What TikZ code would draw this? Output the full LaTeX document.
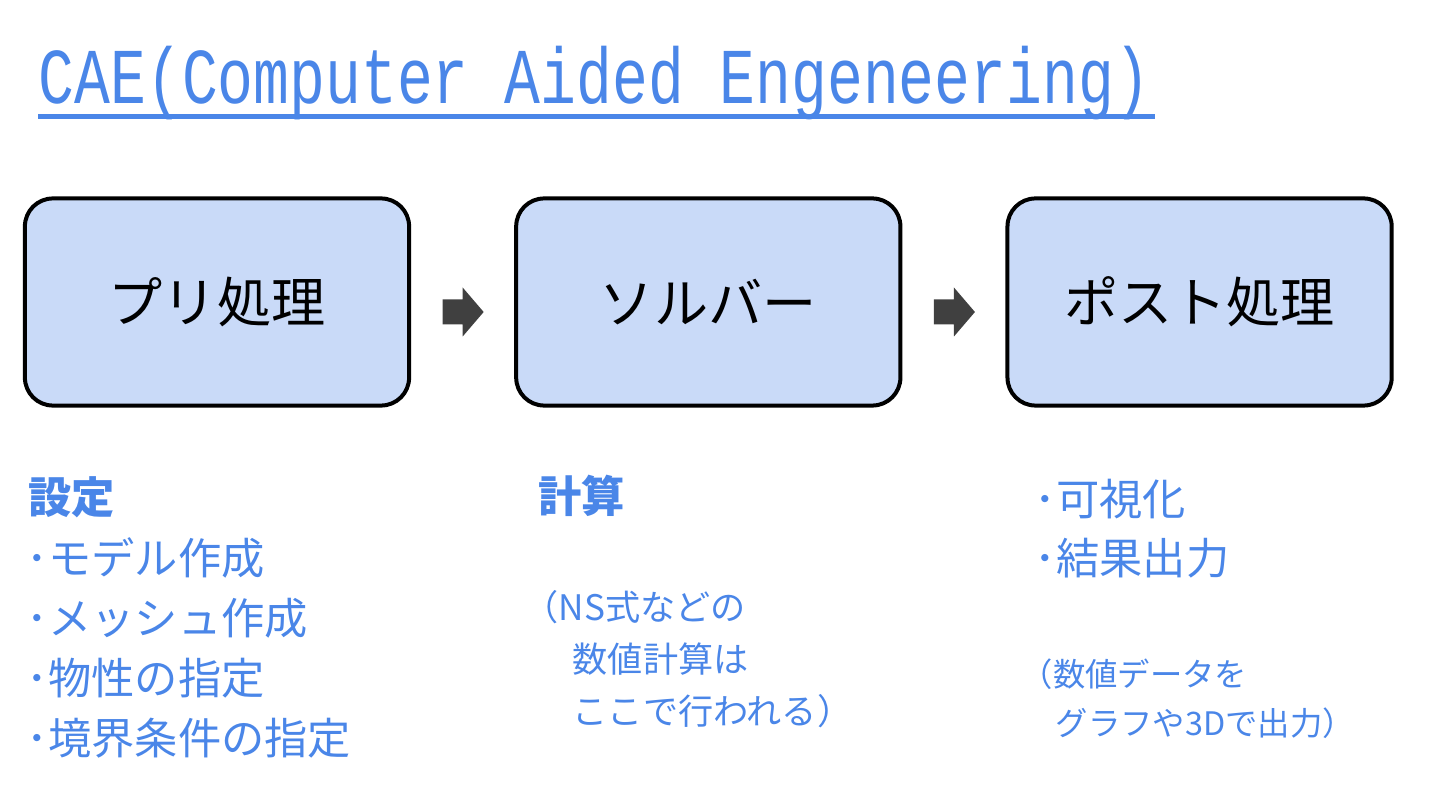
\documentclass[tikz,border=0pt]{standalone}
\usepackage{fontspec}
\setmainfont{Noto Sans CJK JP}
\newfontfamily\titlefont[FakeStretch=0.755]{Liberation Mono}
\usetikzlibrary{positioning,calc}
\definecolor{caeblue}{HTML}{4A86E8}
\definecolor{boxfill}{HTML}{C9DAF8}
\definecolor{arrowgray}{HTML}{404040}
\tikzset{
  procbox/.style={draw=black, line width=0.04cm, fill=boxfill, rounded corners=0.28cm,
    minimum width=3.84cm, minimum height=2.07cm, inner sep=0pt,
    font=\fontsize{15.4}{18}\selectfont},
  note/.style={text=caeblue, inner sep=0pt, anchor=base west},
  bignote/.style={note, font=\fontsize{12.3}{14}\selectfont},
  boldnote/.style={note, font=\bfseries\fontsize{12.3}{14}\selectfont},
  smallnote/.style={note, font=\fontsize{10}{12}\selectfont},
  tinynote/.style={note, font=\fontsize{9.2}{12}\selectfont},
  blockarrow/.pic={
    \fill[arrowgray] (-20,-12.5) -- (0,-12.5) -- (0,-24.5) -- (21,0)
      -- (0,24.5) -- (0,12.5) -- (-20,12.5) -- cycle;
  }
}
\begin{document}
\begin{tikzpicture}[x=0.01cm, y=-0.01cm]
    \useasboundingbox (0,0) rectangle (1440,810);

    % title
    \node[note, text=caeblue, font=\titlefont\fontsize{22.5}{27}\selectfont] (title)
        at (38,104) {CAE(Computer Aided Engeneering)};
    \draw[caeblue, line width=0.05cm]
        ($(title.base west)+(0,13)$) -- ($(title.base east)+(4,13)$);

    % process boxes
    \node[procbox] (pre) at (217,302) {プリ処理};
    \node[procbox, right=1.03cm of pre] (solver) {ソルバー};
    \node[procbox, right=1.03cm of solver] (post) {ポスト処理};

    % arrows between boxes
    \pic at ($(pre.east)!0.5!(solver.west)+(0,10)$) {blockarrow};
    \pic at ($(solver.east)!0.5!(post.west)+(0,10)$) {blockarrow};

    % pre-processing notes
    \node[boldnote] (setting) at (28,514) {設定};
    \foreach \txt [count=\i] in {モデル作成, メッシュ作成, 物性の指定, 境界条件の指定}
        \node[bignote] (set\i) at (26,514+60*\i) {･\txt};

    % solver notes
    \node[boldnote] (compute) at (538,512) {計算};
    \node[smallnote] (ns1) at (523,620) {（NS式などの};
    \node[smallnote] (ns2) at (572,672) {数値計算は};
    \node[smallnote] (ns3) at (572,724) {ここで行われる）};

    % post-processing notes
    \node[bignote] (vis) at (1034,516) {･可視化};
    \node[bignote] (res) at (1034,574) {･結果出力};
    \node[tinynote] (data1) at (1020,686) {（数値データを};
    \node[tinynote] (data2) at (1055,735) {グラフや3Dで出力）};
\end{tikzpicture}
\end{document}
